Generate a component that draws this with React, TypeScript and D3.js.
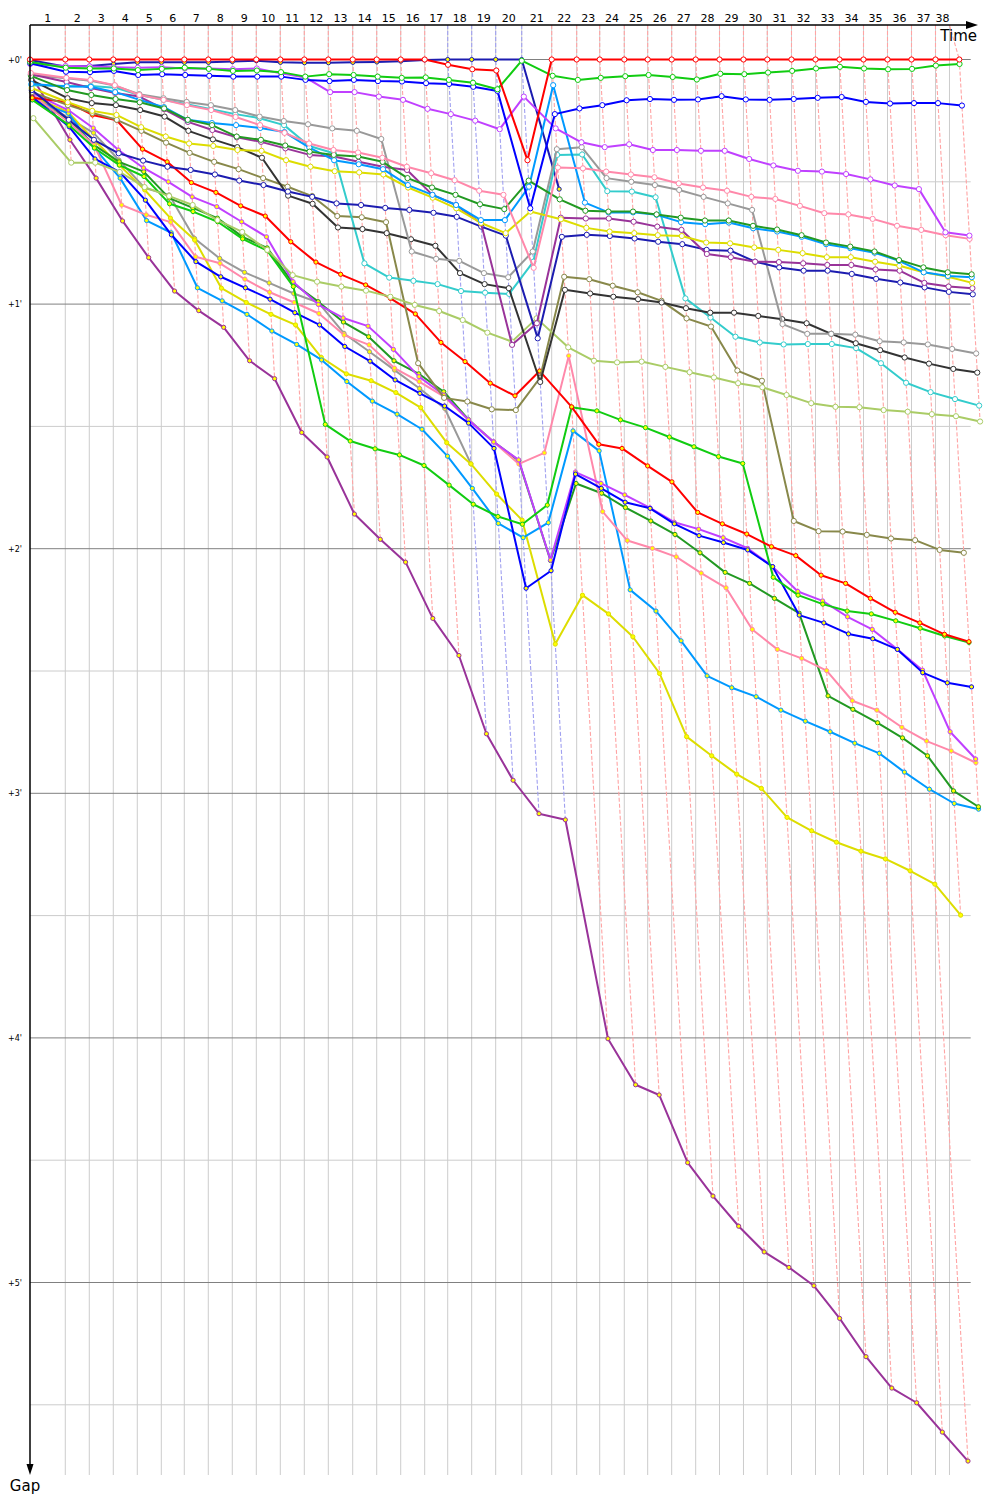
import React from "react";
import * as d3 from "d3";

// ---------- time axis (leader's cumulative race time, seconds, lap index 0..38)
const LEADER_TIME = [
  0, 150.7, 253.2, 355.7, 458.2, 560.7, 658.9, 761.4, 863.9, 966.4,
  1068.9, 1171.4, 1273.9, 1378.1, 1480.6, 1583.1, 1685.5, 1783.8, 1886.2, 1988.7,
  2099.8, 2227.9, 2334.6, 2432.9, 2537.9, 2637.8, 2740.3, 2842.8, 2944.5, 3046.9,
  3148.6, 3251.9, 3354.4, 3456.9, 3559.4, 3661.9, 3764.4, 3866.9, 3968.5,
];
// lap grid lines (end of laps 1..37, then the finish time line)
const GRID_TIME = [
  150.7, 253.2, 355.7, 458.2, 560.7, 658.9, 761.4, 863.9, 966.4,
  1068.9, 1171.4, 1273.9, 1378.1, 1480.6, 1583.1, 1685.5, 1783.8, 1886.2, 1988.7,
  2099.8, 2227.9, 2334.6, 2432.9, 2537.9, 2637.8, 2740.3, 2842.8, 2944.5, 3046.9,
  3148.6, 3251.9, 3354.4, 3456.9, 3559.4, 3661.9, 3764.4, 3866.9, 3926.6,
];
const LAP_LABELS = [
  "1", "2", "3", "4", "5", "6", "7", "8", "9", "10", "11", "12", "13", "14", "15", "16", "17", "18", "19",
  "20", "21", "22", "23", "24", "25", "26", "27", "28", "29", "30", "31", "32", "33", "34", "35", "36", "37", "38",
];
const GAP_TICKS = [0, 60, 120, 180, 240, 300];
const GAP_TICK_LABELS = ["+0'", "+1'", "+2'", "+3'", "+4'", "+5'"];
const GAP_MINOR = [30, 90, 150, 210, 270, 330];

// ---------- gaps to the leader in seconds, per lap (index 0..)
const GAP_RED_1 = [0, 0, 0, 0, 0, 0, 0, 0, 0, 0, 0, 0, 0, 0, 0, 0, 0, 1.3, 2.4, 2.7, 24.7, 0, 0, 0, 0, 0, 0, 0, 0, 0, 0, 0, 0, 0, 0, 0, 0, 0, 0];
const GAP_GREEN_1 = [0.6, 2.0, 2.2, 2.2, 2.6, 2.3, 2.0, 2.3, 2.8, 2.7, 3.1, 4.2, 3.6, 3.8, 4.2, 4.5, 4.4, 5.0, 5.7, 7.3, 0.3, 4.0, 5.0, 4.5, 4.1, 3.8, 4.3, 4.9, 3.5, 3.6, 3.2, 2.8, 2.2, 1.8, 2.2, 2.4, 2.3, 1.5, 1.1];
const GAP_BLUE_1 = [0.9, 3.0, 3.1, 2.8, 3.8, 3.6, 3.8, 4.0, 4.2, 4.2, 4.2, 5.0, 5.3, 5.0, 5.3, 5.4, 5.8, 6.0, 6.7, 7.7, 36.5, 13.4, 12.0, 11.2, 10.0, 9.7, 9.9, 9.8, 9.0, 9.8, 9.9, 9.7, 9.4, 9.2, 10.4, 10.8, 10.7, 10.7, 11.3];
const GAP_MAGENTA_1 = [1.1, 1.6, 1.7, 1.9, 2.0, 1.9, 2.2, 2.2, 2.4, 2.2, 3.4, 4.4, 8.0, 8.0, 9.1, 9.9, 12.1, 13.4, 15.0, 17.1, 9.1, 16.9, 20.3, 21.5, 20.8, 22.2, 22.2, 22.4, 22.4, 24.4, 26.0, 27.3, 27.5, 28.1, 29.4, 30.9, 31.8, 42.4, 43.2];
const GAP_PINK_1 = [3.3, 4.5, 5.0, 6.3, 8.7, 9.9, 11.2, 12.4, 14.1, 16.1, 18.0, 20.6, 22.2, 22.8, 24.1, 26.3, 27.9, 29.6, 32.2, 33.2, 51.1, 26.5, 26.7, 27.5, 28.2, 28.9, 30.4, 31.4, 32.2, 33.7, 34.2, 35.9, 37.7, 38.0, 39.1, 40.8, 41.8, 43.1, 44.0];
const GAP_DKGREEN_1 = [4.0, 7.5, 8.7, 9.7, 10.5, 12.0, 14.8, 16.1, 18.9, 19.7, 21.1, 22.6, 23.4, 23.8, 25.1, 29.1, 31.4, 33.2, 35.5, 36.7, 29.7, 34.3, 37.1, 37.3, 37.3, 38.0, 38.8, 39.5, 39.5, 40.8, 41.7, 43.1, 44.9, 45.9, 47.1, 49.2, 51.0, 52.2, 52.7];
const GAP_SKYBLUE_1 = [6.0, 6.6, 6.7, 8.0, 9.9, 11.7, 14.8, 15.6, 16.1, 16.8, 17.8, 21.6, 24.7, 25.7, 26.9, 30.8, 33.2, 35.7, 39.4, 39.4, 31.2, 6.3, 35.1, 37.5, 37.5, 38.1, 39.9, 40.4, 40.0, 41.4, 42.2, 43.5, 45.3, 46.3, 47.4, 49.4, 52.2, 53.1, 53.4];
const GAP_YELLOW_1 = [7.0, 10.5, 12.6, 13.6, 16.6, 18.9, 20.6, 21.2, 22.2, 22.4, 24.7, 26.3, 27.4, 27.7, 28.2, 31.4, 33.9, 36.5, 40.1, 42.6, 37.3, 39.2, 41.3, 42.2, 42.6, 43.1, 43.3, 44.9, 45.1, 46.1, 46.7, 47.5, 48.5, 48.5, 49.6, 50.6, 52.2, 53.3, 54.8];
const GAP_PURPLE_1 = [3.6, 5.5, 7.0, 8.2, 9.1, 12.2, 15.3, 17.3, 19.1, 20.2, 21.8, 23.4, 23.8, 25.1, 26.3, 27.1, 33.2, 35.7, 40.2, 70.0, 64.7, 38.8, 39.0, 39.0, 39.8, 41.0, 41.8, 47.7, 48.5, 49.6, 49.7, 50.0, 50.4, 50.4, 51.5, 51.8, 54.8, 55.7, 56.1];
const GAP_NAVY_1 = [7.5, 14.8, 19.7, 23.0, 24.8, 26.3, 27.1, 28.2, 29.7, 30.8, 32.4, 33.7, 35.3, 35.7, 36.4, 36.9, 37.6, 38.6, 41.0, 43.2, 68.4, 43.5, 43.0, 43.3, 43.9, 44.7, 45.3, 46.7, 46.9, 49.6, 51.0, 51.8, 51.8, 52.6, 53.8, 54.7, 55.9, 57.0, 57.6];
const GAP_GRAY_1 = [3.8, 4.6, 5.2, 6.4, 8.5, 9.5, 10.4, 11.2, 12.4, 14.0, 15.1, 15.9, 16.9, 17.5, 19.5, 47.1, 48.9, 49.4, 52.4, 53.4, 47.1, 22.0, 21.5, 29.1, 30.0, 30.8, 32.0, 33.7, 35.3, 36.9, 64.9, 67.3, 67.3, 67.5, 69.1, 69.4, 69.9, 71.0, 72.1];
const GAP_BLACK_1 = [5.0, 9.5, 10.7, 11.2, 12.4, 14.0, 17.5, 19.6, 21.5, 24.1, 33.4, 35.4, 41.2, 41.6, 42.6, 44.1, 45.7, 52.4, 55.1, 56.1, 79.1, 56.5, 57.4, 58.2, 58.8, 59.6, 61.0, 62.1, 62.1, 62.9, 63.7, 64.7, 67.3, 69.6, 71.3, 73.1, 74.6, 75.9, 76.8];
const GAP_TEAL_1 = [6.3, 6.5, 6.5, 6.9, 8.7, 9.9, 11.0, 12.2, 13.4, 14.4, 16.1, 21.2, 23.0, 50.0, 53.5, 54.3, 55.1, 56.8, 57.2, 57.5, 49.6, 23.4, 23.3, 32.3, 32.4, 33.8, 58.6, 63.3, 68.0, 69.4, 69.9, 69.8, 69.8, 70.8, 74.5, 79.3, 81.6, 83.3, 84.9];
const GAP_LTGREEN_1 = [14.4, 25.3, 25.3, 27.6, 31.3, 33.5, 35.7, 39.4, 42.3, 46.7, 52.9, 54.5, 55.7, 56.7, 58.2, 60.2, 61.7, 63.9, 67.0, 69.2, 63.5, 70.6, 73.9, 74.3, 74.1, 75.4, 76.7, 78.0, 79.4, 80.4, 82.3, 84.3, 85.2, 85.3, 86.0, 86.4, 87.0, 87.5, 88.8];
const GAP_OLIVE_1 = [8.0, 11.2, 13.1, 14.8, 17.5, 20.4, 22.9, 25.1, 26.9, 29.1, 31.2, 33.5, 38.4, 38.7, 39.9, 74.5, 83.0, 83.9, 85.8, 86.0, 78.1, 53.3, 53.9, 55.5, 57.1, 59.2, 63.5, 65.5, 76.3, 78.8, 113.2, 115.7, 115.8, 116.6, 117.5, 117.9, 120.3, 121.0];
const GAP_RED_2 = [9.4, 10.5, 13.6, 14.9, 22.0, 25.1, 30.2, 32.6, 35.9, 38.4, 44.7, 49.7, 52.7, 55.3, 58.6, 62.4, 69.4, 74.1, 79.4, 82.5, 76.4, 85.2, 94.4, 95.4, 99.7, 103.6, 111.1, 113.9, 116.4, 119.5, 121.7, 126.5, 128.5, 132.2, 135.6, 138.2, 141.0, 142.8];
const GAP_GREEN_2 = [9.9, 16.1, 21.7, 25.9, 28.7, 35.4, 37.3, 39.8, 44.0, 46.9, 55.7, 89.5, 93.6, 95.5, 97.0, 99.6, 104.4, 109.1, 112.1, 114.0, 109.3, 85.3, 86.2, 88.4, 90.3, 92.6, 95.0, 97.4, 99.1, 127.0, 131.4, 133.6, 135.3, 136.0, 137.7, 139.5, 141.4, 143.0];
const GAP_BLUE_2 = [9.2, 16.5, 24.4, 27.6, 34.5, 43.0, 49.6, 53.3, 56.0, 58.8, 62.1, 65.1, 70.4, 74.0, 78.6, 81.9, 85.0, 89.2, 95.4, 129.7, 125.4, 101.7, 105.2, 108.6, 110.1, 113.9, 116.8, 118.5, 120.3, 124.4, 136.3, 138.2, 140.9, 142.1, 144.7, 150.4, 152.9, 153.9];
const GAP_MAGENTA_2 = [8.2, 12.4, 16.8, 22.2, 26.6, 30.0, 33.7, 36.1, 39.8, 43.5, 54.5, 60.1, 63.4, 65.4, 71.1, 77.8, 82.3, 88.4, 93.8, 98.2, 122.8, 101.2, 104.0, 106.8, 110.0, 113.5, 115.2, 117.3, 119.9, 124.4, 130.5, 132.8, 136.7, 139.8, 144.7, 149.8, 164.9, 171.6];
const GAP_PINK_2 = [8.7, 15.4, 21.0, 35.7, 38.1, 39.9, 48.4, 50.0, 53.9, 57.1, 59.6, 62.3, 67.6, 70.0, 75.7, 79.0, 82.7, 88.4, 93.8, 99.2, 96.5, 72.7, 110.9, 118.0, 119.9, 122.0, 126.0, 129.6, 139.8, 144.7, 146.9, 149.9, 157.3, 159.6, 163.8, 167.2, 169.6, 172.5];
const GAP_DKGREEN_2 = [9.4, 14.8, 21.0, 25.1, 27.5, 34.0, 36.4, 38.9, 43.5, 46.2, 54.9, 59.4, 64.4, 68.0, 73.9, 77.1, 81.5, 88.3, 93.8, 98.4, 122.9, 104.0, 106.4, 109.9, 113.2, 116.5, 121.0, 125.8, 128.5, 132.2, 135.8, 156.1, 159.4, 162.7, 166.4, 170.8, 179.4, 183.3];
const GAP_SKYBLUE_2 = [9.9, 13.2, 21.7, 29.1, 39.5, 42.5, 56.0, 59.2, 62.5, 66.6, 69.9, 73.7, 79.0, 83.8, 87.0, 90.7, 97.3, 105.2, 113.8, 117.3, 113.6, 91.1, 96.0, 130.1, 135.3, 142.6, 151.2, 154.1, 156.3, 159.6, 162.3, 164.9, 167.7, 170.2, 174.8, 179.0, 182.5, 183.9];
const GAP_YELLOW_2 = [9.0, 12.9, 19.7, 25.9, 32.0, 38.9, 44.3, 56.1, 59.6, 62.5, 65.1, 73.1, 77.1, 78.8, 81.7, 85.4, 94.0, 99.2, 106.6, 113.0, 143.4, 131.4, 136.0, 141.6, 150.6, 166.1, 170.8, 175.3, 178.8, 185.9, 189.2, 192.0, 194.2, 196.1, 199.0, 202.3, 209.9];
const GAP_PURPLE_2 = [3.8, 19.7, 29.1, 39.6, 48.6, 56.8, 61.6, 65.7, 73.9, 78.3, 91.5, 97.5, 111.5, 117.7, 123.3, 137.1, 146.2, 165.4, 176.8, 185.0, 186.5, 240.2, 251.5, 254.0, 270.6, 278.8, 286.2, 292.5, 296.3, 300.8, 308.8, 318.2, 325.9, 329.5, 336.7, 343.8];
const GAP_GRAY_2 = [8.7, 14.4, 18.0, 24.7, 31.5, 33.2, 43.9, 48.8, 52.2, 54.8, 57.4, 59.6, 67.2, 71.7, 76.2, 80.7, 85.6, 99.2];
const GAP_NAVY_2 = [0.1, 1.8, 1.6, 1.1, 0.7, 0.7, 0.7, 0.7, 0.5, 0.3, 0.7, 0.8, 0.8, 0.7, 0.6, 0.4, 0.1, 0, 0, 0, 0, 31.8];

// ---------- team colours
const C_RED = "#ff0000";
const C_GREEN = "#11cc11";
const C_BLUE = "#0000ff";
const C_MAGENTA = "#c040ff";
const C_PINK = "#ff88aa";
const C_DKGREEN = "#229922";
const C_SKYBLUE = "#0099ff";
const C_YELLOW = "#dddd00";
const C_PURPLE = "#993399";
const C_NAVY = "#1c1cb0";
const C_GRAY = "#999999";
const C_BLACK = "#333333";
const C_TEAL = "#33cccc";
const C_LTGREEN = "#aacc66";
const C_OLIVE = "#88884a";

type Series = { color: string; second: boolean; gaps: number[] };

const SERIES: Series[] = [
  { color: C_RED, second: false, gaps: GAP_RED_1 },
  { color: C_GREEN, second: false, gaps: GAP_GREEN_1 },
  { color: C_BLUE, second: false, gaps: GAP_BLUE_1 },
  { color: C_MAGENTA, second: false, gaps: GAP_MAGENTA_1 },
  { color: C_PINK, second: false, gaps: GAP_PINK_1 },
  { color: C_DKGREEN, second: false, gaps: GAP_DKGREEN_1 },
  { color: C_SKYBLUE, second: false, gaps: GAP_SKYBLUE_1 },
  { color: C_YELLOW, second: false, gaps: GAP_YELLOW_1 },
  { color: C_PURPLE, second: false, gaps: GAP_PURPLE_1 },
  { color: C_NAVY, second: false, gaps: GAP_NAVY_1 },
  { color: C_GRAY, second: false, gaps: GAP_GRAY_1 },
  { color: C_BLACK, second: false, gaps: GAP_BLACK_1 },
  { color: C_TEAL, second: false, gaps: GAP_TEAL_1 },
  { color: C_LTGREEN, second: false, gaps: GAP_LTGREEN_1 },
  { color: C_OLIVE, second: false, gaps: GAP_OLIVE_1 },
  { color: C_RED, second: true, gaps: GAP_RED_2 },
  { color: C_GREEN, second: true, gaps: GAP_GREEN_2 },
  { color: C_BLUE, second: true, gaps: GAP_BLUE_2 },
  { color: C_MAGENTA, second: true, gaps: GAP_MAGENTA_2 },
  { color: C_PINK, second: true, gaps: GAP_PINK_2 },
  { color: C_DKGREEN, second: true, gaps: GAP_DKGREEN_2 },
  { color: C_SKYBLUE, second: true, gaps: GAP_SKYBLUE_2 },
  { color: C_YELLOW, second: true, gaps: GAP_YELLOW_2 },
  { color: C_PURPLE, second: true, gaps: GAP_PURPLE_2 },
  { color: C_GRAY, second: true, gaps: GAP_GRAY_2 },
  { color: C_NAVY, second: true, gaps: GAP_NAVY_2 },
];

const FONT = "'DejaVu Sans', Verdana, sans-serif";

export default function App() {
  const PX_PER_SEC = 14.05 / 60;
  const x = d3.scaleLinear().domain([0, 4000]).range([30, 30 + 4000 * PX_PER_SEC]);
  const y = d3.scaleLinear().domain([0, 360]).range([59.5, 59.5 + 6 * 244.6]);
  const TOP = 25;
  const BOTTOM = 1475;
  const RIGHT = 970.7;
  const line = d3.line<[number, number]>();

  const seriesPts = SERIES.map((s) =>
    s.gaps.map((g, k) => [x(LEADER_TIME[k] + g), y(g)] as [number, number])
  );

  const lapLines = GRID_TIME.map((gt, i) => {
    const k = i + 1;
    const items = SERIES.map((s, si) => ({ s, si, g: s.gaps[k] })).filter((d) => d.g !== undefined);
    items.sort((a, b) => a.g - b.g || a.si - b.si);
    const leader = items[0].s;
    const coords: [number, number][] = [[x(gt), TOP]];
    items.forEach((d) => coords.push([x(LEADER_TIME[k] + d.g), y(d.g)]));
    return { d: line(coords) as string, color: leader.color === C_NAVY ? "#a0a0f0" : "#ffa4a4" };
  });

  const gridXs = [x(0), ...GRID_TIME.map((t) => x(t))];

  const order = SERIES.map((_, i) => i).reverse();

  return (
    <svg
      width={1000}
      height={1500}
      style={{ position: "absolute", left: 0, top: 0, background: "#fff" }}
      xmlns="http://www.w3.org/2000/svg"
    >
      <rect x={0} y={0} width={1000} height={1500} fill="#fff" />
      {/* horizontal grid */}
      {GAP_MINOR.map((v) => (
        <line key={"hm" + v} x1={30} x2={RIGHT} y1={y(v)} y2={y(v)} stroke="#cccccc" strokeWidth={1} />
      ))}
      {/* vertical grid */}
      {GRID_TIME.map((t, i) => (
        <line key={"vg" + i} x1={x(t)} x2={x(t)} y1={TOP} y2={BOTTOM} stroke="#cccccc" strokeWidth={1} />
      ))}
      {GAP_TICKS.map((v) => (
        <line key={"hM" + v} x1={30} x2={RIGHT} y1={y(v)} y2={y(v)} stroke="#808080" strokeWidth={1} />
      ))}
      {/* lap lines */}
      {lapLines.map((l, i) => (
        <path key={"lap" + i} d={l.d} fill="none" stroke={l.color} strokeWidth={1.1} strokeDasharray="4,2" />
      ))}
      {/* series */}
      {order.map((si) => {
        const s = SERIES[si];
        const p = seriesPts[si];
        return (
          <g key={"s" + si}>
            <path d={line(p) as string} fill="none" stroke={s.color} strokeWidth={2} strokeLinejoin="round" />
            {p.map((pt, k) => (
              <circle
                key={k}
                cx={pt[0]}
                cy={pt[1]}
                r={s.second ? 2.1 : 2.6}
                fill={s.second ? "#ffff00" : "#ffffff"}
                stroke={s.color}
                strokeWidth={1}
              />
            ))}
          </g>
        );
      })}
      {/* axes */}
      <line x1={30} x2={968} y1={TOP} y2={TOP} stroke="#000" strokeWidth={1.5} />
      <path d={`M966,${TOP - 4} L978,${TOP} L966,${TOP + 4} Z`} fill="#000" />
      <line x1={30} x2={30} y1={TOP} y2={BOTTOM - 8} stroke="#000" strokeWidth={1.5} />
      <path d={`M26.5,${BOTTOM - 11} L30,${BOTTOM} L33.5,${BOTTOM - 11} Z`} fill="#000" />
      {/* lap labels */}
      {LAP_LABELS.map((lab, i) => (
        <text
          key={"ll" + i}
          x={(gridXs[i] + gridXs[i + 1]) / 2}
          y={22}
          fontFamily={FONT}
          fontSize={11}
          textAnchor="middle"
          fill="#000"
        >
          {lab}
        </text>
      ))}
      {GAP_TICKS.map((v, i) => (
        <text
          key={"yl" + v}
          x={15}
          y={y(v) + 3}
          fontFamily={FONT}
          fontSize={8}
          textAnchor="middle"
          fill="#000"
        >
          {GAP_TICK_LABELS[i]}
        </text>
      ))}
      <text x={977} y={41} fontFamily={FONT} fontSize={15} textAnchor="end" fill="#000">
        Time
      </text>
      <text x={25} y={1491} fontFamily={FONT} fontSize={15} textAnchor="middle" fill="#000">
        Gap
      </text>
    </svg>
  );
}
